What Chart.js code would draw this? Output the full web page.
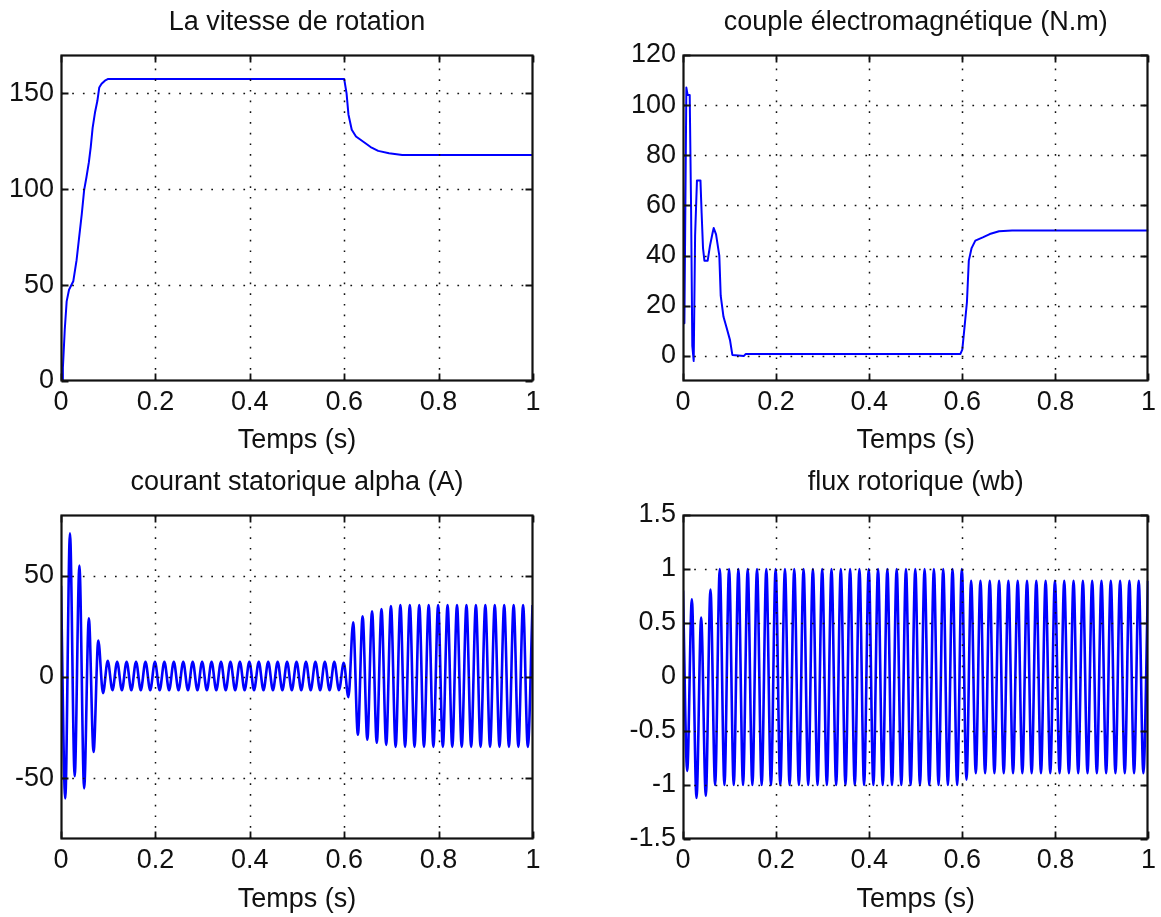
<!DOCTYPE html>
<html>
<head>
<meta charset="utf-8">
<title>Simulation MAS</title>
<script src="https://cdn.jsdelivr.net/npm/chart.js@4/dist/chart.umd.min.js"></script>
<style>
  html, body { margin: 0; padding: 0; background: #ffffff; overflow: hidden; }
  #fig { position: relative; width: 1161px; height: 917px; background: #ffffff; }
  #fig canvas { position: absolute; }
</style>
</head>
<body>
<div id="fig">
  <canvas id="cSpeed"   width="580" height="458" style="left:0px;top:0px"></canvas>
  <canvas id="cTorque"  width="581" height="458" style="left:580px;top:0px"></canvas>
  <canvas id="cCurrent" width="580" height="459" style="left:0px;top:458px"></canvas>
  <canvas id="cFlux"    width="581" height="459" style="left:580px;top:458px"></canvas>
</div>
<script>
// ---- time axis (s) ----
const X_TICKS = [0, 0.2, 0.4, 0.6, 0.8, 1];

// ---- vitesse de rotation (rad/s) ----
const SPEED_T = [0, 0.0035, 0.004, 0.008, 0.012, 0.017, 0.026, 0.033, 0.038, 0.044,
                 0.049, 0.054, 0.059, 0.063, 0.067, 0.072, 0.077, 0.081, 0.086, 0.093,
                 0.100, 0.600, 0.605, 0.609, 0.616, 0.625, 0.645, 0.656, 0.672, 0.695,
                 0.723, 1.000];
const SPEED_V = [0, 0, 7, 27, 41.5, 47.6, 52, 63, 74, 87,
                 99.5, 106.4, 114, 122, 132, 140, 146, 153, 155, 156.6,
                 157.5, 157.5, 150, 139, 131, 127.5, 124, 122, 120, 118.8,
                 117.9, 117.9];
const SPEED_TICKS = [0, 50, 100, 150];

// ---- couple électromagnétique (N.m) ----
const TORQUE_T = [0, 0.0014, 0.003, 0.0072, 0.010, 0.0144, 0.0173, 0.020, 0.023, 0.026,
                  0.030, 0.0375, 0.040, 0.043, 0.046, 0.053, 0.058, 0.0635, 0.066, 0.071,
                  0.078, 0.081, 0.087, 0.094, 0.101, 0.106, 0.131, 0.135, 0.596, 0.600,
                  0.604, 0.610, 0.614, 0.620, 0.628, 0.644, 0.659, 0.679, 0.707, 1.000];
const TORQUE_V = [70, 70, 13, 107, 104, 104, 60, 4, -2, 48,
                  70, 70, 57, 43, 38, 38, 44, 49, 51, 48.5,
                  40, 24, 15.6, 11, 6.3, 0.4, 0, 0.8, 0.8, 2.5,
                  10, 21.5, 38, 43, 46, 47.3, 48.6, 49.7, 50, 50];
const TORQUE_TICKS = [0, 20, 40, 60, 80, 100, 120];

// ---- instants of the successive crests of the 50 Hz quantities (s) ----
const OSC_T = [0,
  0.009, 0.019, 0.029, 0.039, 0.049, 0.059, 0.069, 0.079, 0.089, 0.099,
  0.109, 0.119, 0.129, 0.139, 0.149, 0.159, 0.169, 0.179, 0.189, 0.199,
  0.209, 0.219, 0.229, 0.239, 0.249, 0.259, 0.269, 0.279, 0.289, 0.299,
  0.309, 0.319, 0.329, 0.339, 0.349, 0.359, 0.369, 0.379, 0.389, 0.399,
  0.409, 0.419, 0.429, 0.439, 0.449, 0.459, 0.469, 0.479, 0.489, 0.499,
  0.509, 0.519, 0.529, 0.539, 0.549, 0.559, 0.569, 0.579, 0.589, 0.599,
  0.609, 0.619, 0.629, 0.639, 0.649, 0.659, 0.669, 0.679, 0.689, 0.699,
  0.709, 0.719, 0.729, 0.739, 0.749, 0.759, 0.769, 0.779, 0.789, 0.799,
  0.809, 0.819, 0.829, 0.839, 0.849, 0.859, 0.869, 0.879, 0.889, 0.899,
  0.909, 0.919, 0.929, 0.939, 0.949, 0.959, 0.969, 0.979, 0.989, 0.999];

// ---- courant statorique alpha (A), crest values ----
const CURRENT_V = [45,
  -60, 71, -49, 55, -55, 29, -37, 18, -8, 8,
  -6.5, 7.5, -6.5, 7.5, -6.5, 7.5, -6.5, 7.5, -6.5, 7.5,
  -6.5, 7.5, -6.5, 7.5, -6.5, 7.5, -6.5, 7.5, -6.5, 7.5,
  -6.5, 7.5, -6.5, 7.5, -6.5, 7.5, -6.5, 7.5, -6.5, 7.5,
  -6.5, 7.5, -6.5, 7.5, -6.5, 7.5, -6.5, 7.5, -6.5, 7.5,
  -6.5, 7.5, -6.5, 7.5, -6.5, 7.5, -6.5, 7.5, -6.5, 7,
  -10, 27, -28.5, 30, -31, 32.5, -32.5, 33.5, -33.5, 35,
  -34.5, 35.5, -34.5, 35.5, -34.5, 35.5, -34.5, 35.5, -34.5, 35.5,
  -34.5, 35.5, -34.5, 35.5, -34.5, 35.5, -34.5, 35.5, -34.5, 35.5,
  -34.5, 35.5, -34.5, 35.5, -34.5, 35.5, -34.5, 35.5, -34.5, 35.5];
const CURRENT_TICKS = [-50, 0, 50];

// ---- flux rotorique (Wb), crest values ----
const FLUX_V = [0.8,
  -0.87, 0.72, -1.12, 0.55, -1.1, 0.81, -1.0, 1.0, -1.0, 1.0,
  -1, 1, -1, 1, -1, 1, -1, 1, -1, 1,
  -1, 1, -1, 1, -1, 1, -1, 1, -1, 1,
  -1, 1, -1, 1, -1, 1, -1, 1, -1, 1,
  -1, 1, -1, 1, -1, 1, -1, 1, -1, 1,
  -1, 1, -1, 1, -1, 1, -1, 1, -1, 1,
  -0.95, 0.89, -0.89, 0.89, -0.89, 0.89, -0.89, 0.89, -0.89, 0.89,
  -0.89, 0.89, -0.89, 0.89, -0.89, 0.89, -0.89, 0.89, -0.89, 0.89,
  -0.89, 0.89, -0.89, 0.89, -0.89, 0.89, -0.89, 0.89, -0.89, 0.89,
  -0.89, 0.89, -0.89, 0.89, -0.89, 0.89, -0.89, 0.89, -0.89, 0.89];
const FLUX_TICKS = [-1.5, -1, -0.5, 0, 0.5, 1, 1.5];

// ---------------------------------------------------------------
const FONT = '"Liberation Sans", Arial, Helvetica, sans-serif';
const INK = '#111111';
const TRACE = '#0000ff';
const TXT = 27;          // text size (px)
const LH = TXT * 1.2;    // text line height (px)

// axes frame, inner tick marks and dotted grid, drawn over the trace
const matlabFrame = {
  id: 'matlabFrame',
  afterDatasetsDraw(chart) {
    const { ctx, chartArea: a, scales: { x, y } } = chart;
    const L = Math.round(a.left) + 0.5, R = Math.round(a.right) - 0.5;
    const T = Math.round(a.top) + 0.5, B = Math.round(a.bottom) - 0.5;
    ctx.save();
    // dotted grid
    ctx.strokeStyle = INK;
    ctx.lineWidth = 1.5;
    ctx.setLineDash([1.7, 9]);
    x.ticks.forEach(t => {
      const p = Math.round(x.getPixelForValue(t.value)) + 0.5;
      if (p > L + 2 && p < R - 2) {
        ctx.beginPath(); ctx.moveTo(p, B); ctx.lineTo(p, T); ctx.stroke();
      }
    });
    y.ticks.forEach(t => {
      const p = Math.round(y.getPixelForValue(t.value)) + 0.5;
      if (p > T + 2 && p < B - 2) {
        ctx.beginPath(); ctx.moveTo(L, p); ctx.lineTo(R, p); ctx.stroke();
      }
    });
    ctx.setLineDash([]);
    // inward tick marks on the four sides
    const len = 7;
    ctx.lineWidth = 1.8;
    x.ticks.forEach(t => {
      const p = Math.round(x.getPixelForValue(t.value)) + 0.5;
      ctx.beginPath();
      ctx.moveTo(p, B); ctx.lineTo(p, B - len);
      ctx.moveTo(p, T); ctx.lineTo(p, T + len);
      ctx.stroke();
    });
    y.ticks.forEach(t => {
      const p = Math.round(y.getPixelForValue(t.value)) + 0.5;
      ctx.beginPath();
      ctx.moveTo(L, p); ctx.lineTo(L + len, p);
      ctx.moveTo(R, p); ctx.lineTo(R - len, p);
      ctx.stroke();
    });
    // box
    ctx.lineWidth = 2.2;
    ctx.strokeRect(L, T, R - L, B - T);
    ctx.restore();
  }
};

function panel(id, cfg) {
  const cv = document.getElementById(id);
  const W = cv.width, H = cv.height;
  const points = cfg.t.map((t, i) => ({ x: t, y: cfg.v[i] }));
  return new Chart(cv, {
    type: 'line',
    data: {
      datasets: [{
        data: points,
        borderColor: TRACE,
        borderWidth: cfg.lineWidth,
        borderJoinStyle: 'round',
        pointRadius: 0,
        tension: 0,
        cubicInterpolationMode: cfg.smooth ? 'monotone' : 'default',
        fill: false
      }]
    },
    options: {
      responsive: false,
      animation: false,
      devicePixelRatio: 1,
      events: [],
      layout: { padding: { left: 0, right: W - cfg.box.right, top: 0, bottom: 0 } },
      plugins: {
        legend: { display: false },
        tooltip: { enabled: false },
        title: {
          display: true,
          fullSize: false,
          text: cfg.title,
          color: INK,
          font: { family: FONT, size: TXT, weight: 'normal', lineHeight: 1.2 },
          padding: { top: cfg.titleY - LH / 2, bottom: cfg.box.top - (cfg.titleY - LH / 2) - LH }
        }
      },
      scales: {
        x: {
          type: 'linear',
          min: 0,
          max: 1,
          afterBuildTicks: s => { s.ticks = X_TICKS.map(v => ({ value: v })); },
          afterFit: s => { s.height = H - cfg.box.bottom; },
          grid: { display: false, drawTicks: false },
          border: { display: false },
          ticks: {
            color: INK,
            padding: 5,
            maxRotation: 0,
            autoSkip: false,
            font: { family: FONT, size: TXT },
            callback: v => String(v)
          },
          title: {
            display: true,
            text: 'Temps (s)',
            color: INK,
            font: { family: FONT, size: TXT, lineHeight: 1.2 },
            padding: { top: 0, bottom: (H - cfg.xTitleY) - LH / 2 }
          }
        },
        y: {
          type: 'linear',
          min: cfg.yMin,
          max: cfg.yMax,
          afterBuildTicks: s => { s.ticks = cfg.yTicks.map(v => ({ value: v })); },
          afterFit: s => { s.width = cfg.box.left; },
          grid: { display: false, drawTicks: false },
          border: { display: false },
          ticks: {
            color: INK,
            padding: 7,
            autoSkip: false,
            font: { family: FONT, size: TXT },
            callback: v => String(v)
          }
        }
      }
    },
    plugins: [matlabFrame]
  });
}

panel('cSpeed', {
  title: 'La vitesse de rotation',
  t: SPEED_T, v: SPEED_V, lineWidth: 2, smooth: false,
  yMin: 0, yMax: 170, yTicks: SPEED_TICKS,
  box: { left: 61, right: 533, top: 55, bottom: 381 },
  titleY: 23, xTitleY: 441
});

panel('cTorque', {
  title: 'couple électromagnétique (N.m)',
  t: TORQUE_T, v: TORQUE_V, lineWidth: 2, smooth: false,
  yMin: -10, yMax: 120, yTicks: TORQUE_TICKS,
  box: { left: 103, right: 575, top: 55, bottom: 381 },
  titleY: 23, xTitleY: 441
});

panel('cCurrent', {
  title: 'courant statorique alpha (A)',
  t: OSC_T, v: CURRENT_V, lineWidth: 2.6, smooth: true,
  yMin: -80, yMax: 80, yTicks: CURRENT_TICKS,
  box: { left: 61, right: 533, top: 57, bottom: 381 },
  titleY: 25, xTitleY: 442
});

panel('cFlux', {
  title: 'flux rotorique (wb)',
  t: OSC_T, v: FLUX_V, lineWidth: 2.6, smooth: true,
  yMin: -1.5, yMax: 1.5, yTicks: FLUX_TICKS,
  box: { left: 103, right: 575, top: 57, bottom: 381 },
  titleY: 25, xTitleY: 442
});
</script>
</body>
</html>
